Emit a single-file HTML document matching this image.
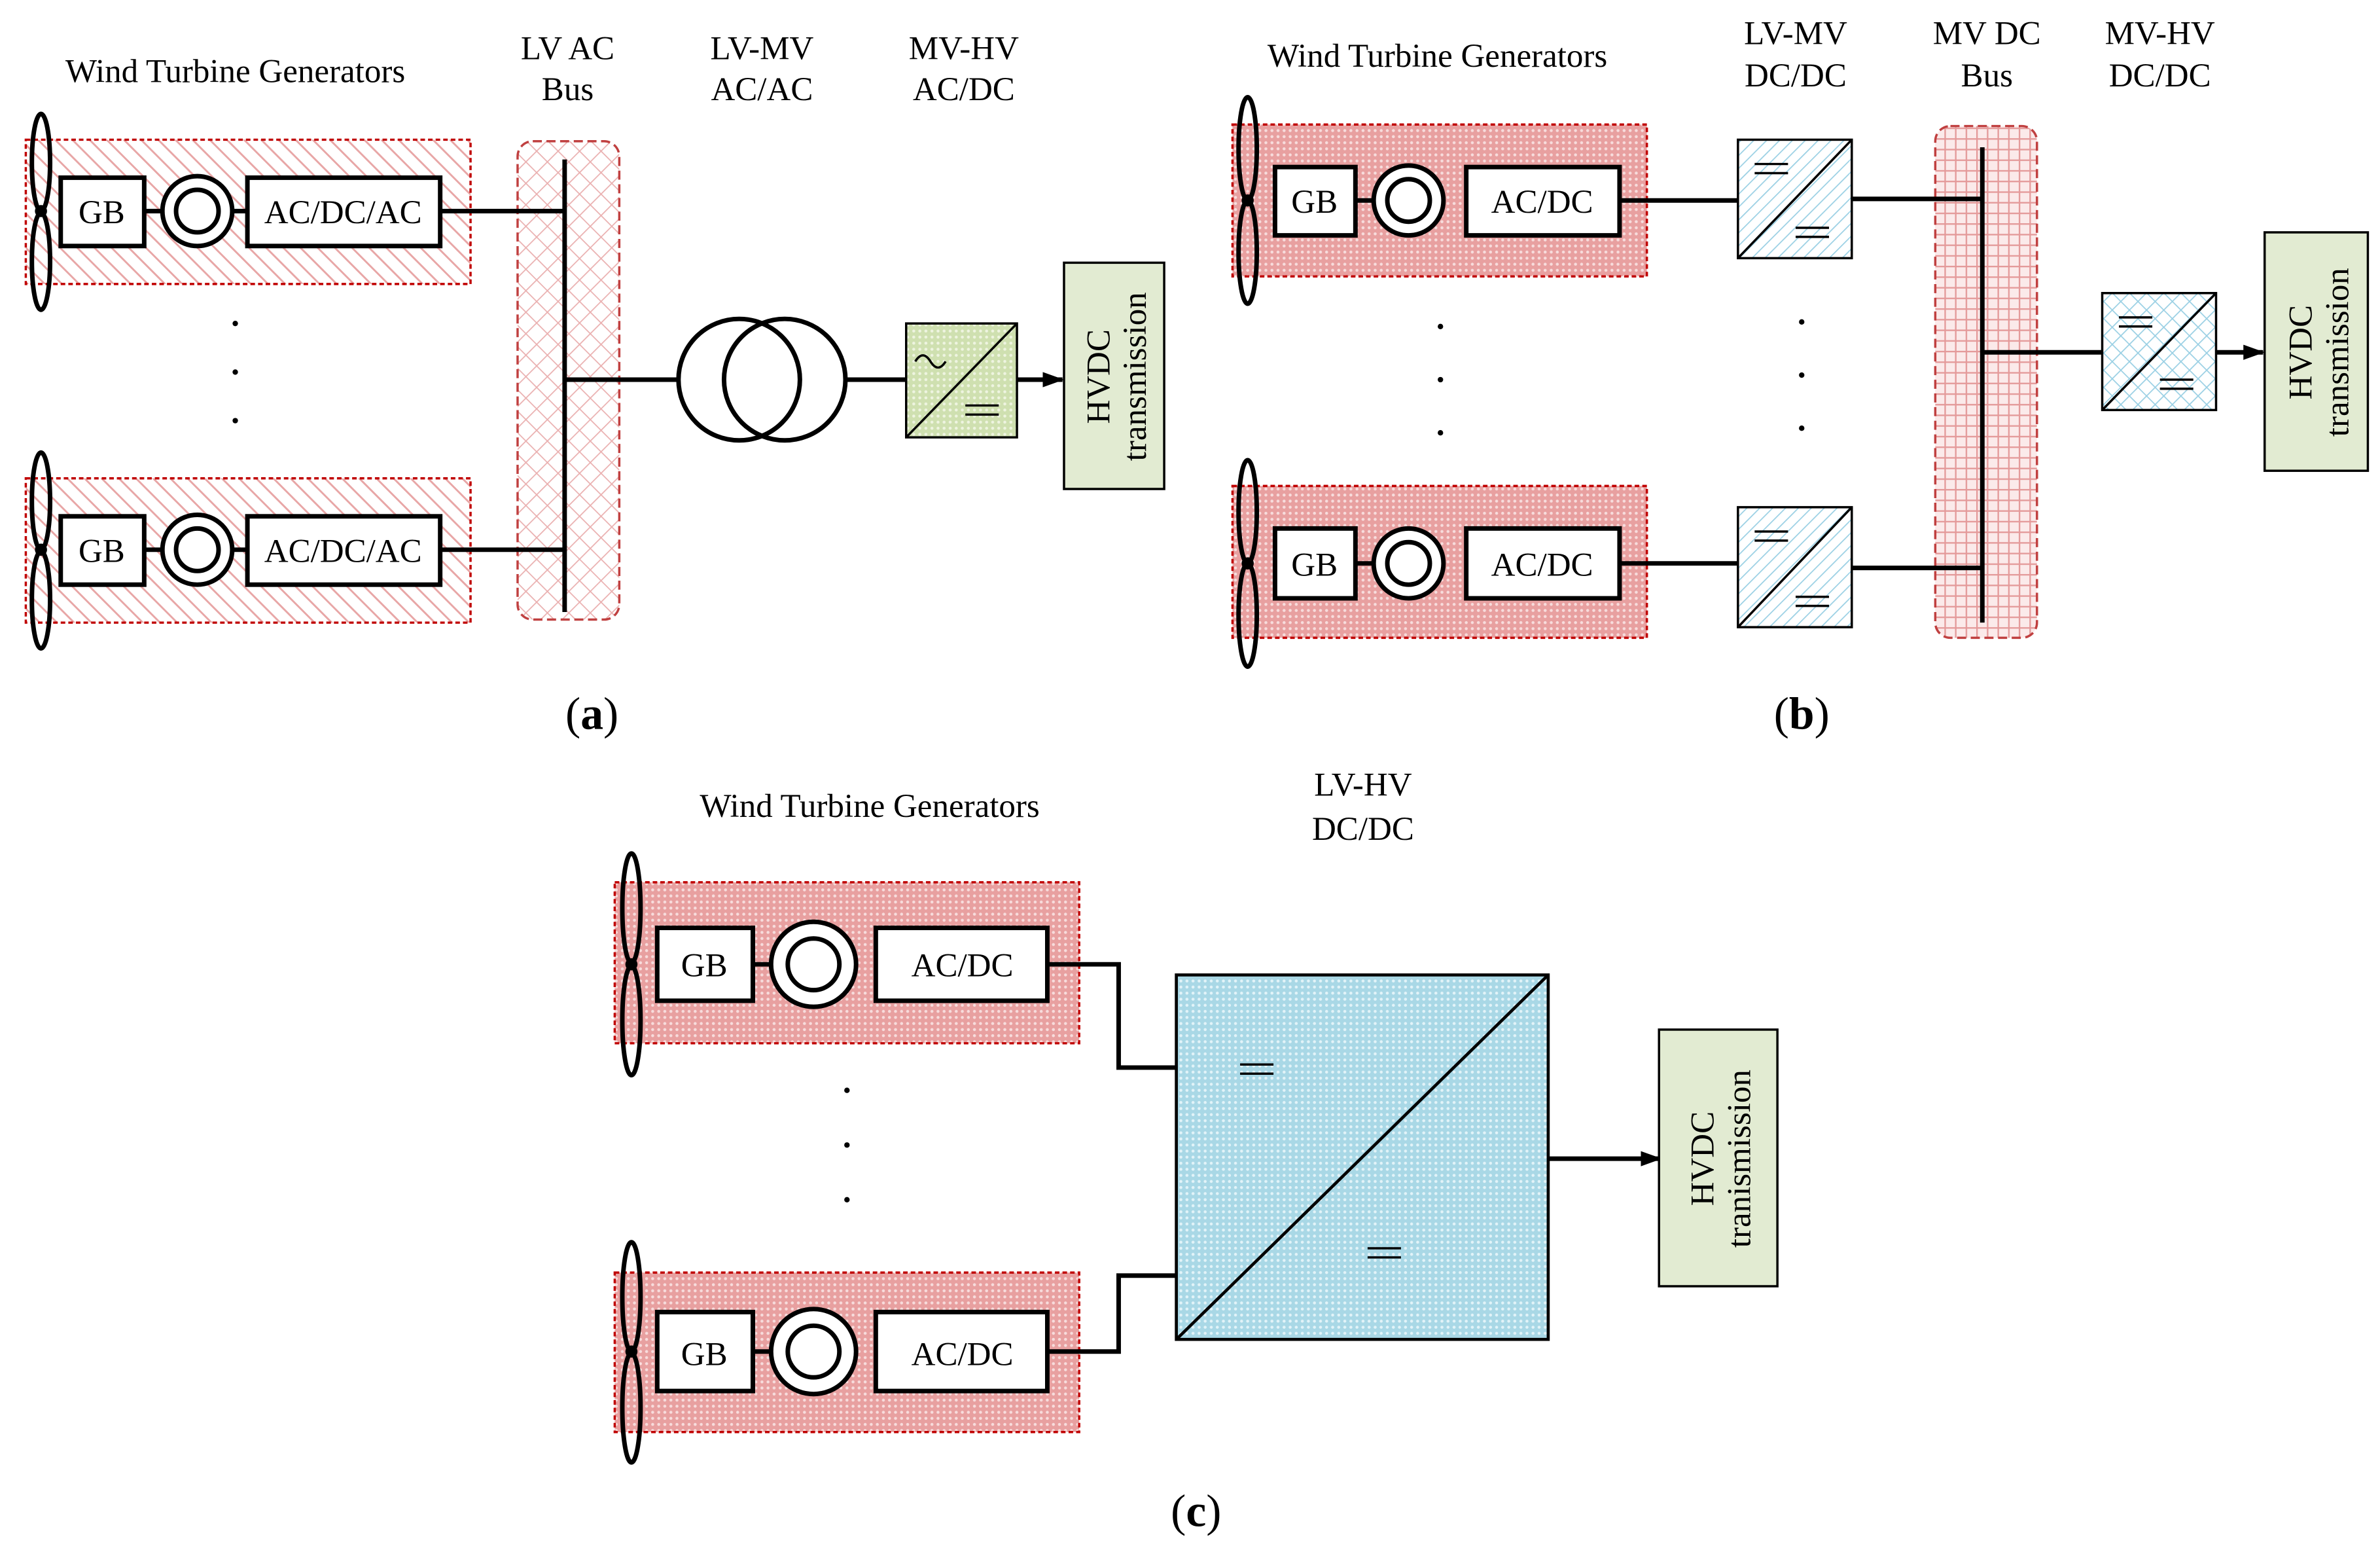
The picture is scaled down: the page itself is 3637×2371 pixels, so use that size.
<!DOCTYPE html>
<html><head><meta charset="utf-8"><style>html,body{margin:0;padding:0;background:#fff}svg{display:block}</style></head><body>
<svg width="3637" height="2371" viewBox="0 0 1568 1022" preserveAspectRatio="none" xmlns="http://www.w3.org/2000/svg" font-family="Liberation Serif, serif">
<defs>
<pattern id="hatch" width="8" height="8" patternUnits="userSpaceOnUse" patternTransform="rotate(-45)"><rect width="8" height="8" fill="#fff"/><line x1="0" y1="0" x2="0" y2="8" stroke="#e8a6a6" stroke-width="2.5"/></pattern>
<pattern id="cross" width="10" height="10" patternUnits="userSpaceOnUse" patternTransform="rotate(45)"><rect width="10" height="10" fill="#fff"/><path d="M0 0V10M0 0H10" stroke="#eab0b0" stroke-width="1.5"/></pattern>
<pattern id="grid" width="7" height="7" patternUnits="userSpaceOnUse"><rect width="7" height="7" fill="#fbeaea"/><path d="M0 0V7M0 0H7" stroke="#e49a9a" stroke-width="2"/></pattern>
<pattern id="dots" width="4" height="4" patternUnits="userSpaceOnUse"><rect width="4" height="4" fill="#e8a0a0"/><circle cx="2" cy="2" r="1" fill="#f7dcdc"/></pattern>
<pattern id="bluedots" width="4" height="4" patternUnits="userSpaceOnUse"><rect width="4" height="4" fill="#a9d8e6"/><circle cx="2" cy="2" r="1" fill="#e2f3f8"/></pattern>
<pattern id="bluehatch" width="6" height="6" patternUnits="userSpaceOnUse" patternTransform="rotate(45)"><rect width="6" height="6" fill="#fff"/><line x1="0" y1="0" x2="0" y2="6" stroke="#9ad0e4" stroke-width="1.5"/></pattern>
<pattern id="bluecross" width="8" height="8" patternUnits="userSpaceOnUse" patternTransform="rotate(45)"><rect width="8" height="8" fill="#fff"/><path d="M0 0V8M0 0H8" stroke="#9ad0e4" stroke-width="1.5"/></pattern>
<pattern id="greendots" width="4" height="4" patternUnits="userSpaceOnUse"><rect width="4" height="4" fill="#cfe0b0"/><circle cx="2" cy="2" r="1" fill="#eef4e0"/></pattern>
<marker id="ar" markerWidth="14" markerHeight="12" refX="13" refY="6" orient="auto" markerUnits="userSpaceOnUse"><path d="M0 1L14 6L0 11Z" fill="#000"/></marker>
</defs>
<g font-size="22" fill="#000">
<text x="155" y="54" text-anchor="middle">Wind Turbine Generators</text>
<text x="374" y="39" text-anchor="middle">LV AC</text><text x="374" y="66" text-anchor="middle">Bus</text>
<text x="502" y="39" text-anchor="middle">LV-MV</text><text x="502" y="66" text-anchor="middle">AC/AC</text>
<text x="635" y="39" text-anchor="middle">MV-HV</text><text x="635" y="66" text-anchor="middle">AC/DC</text>
<text x="390" y="480" text-anchor="middle" font-size="30">(<tspan font-weight="bold">a</tspan>)</text>
<text x="1187" y="480" text-anchor="middle" font-size="30">(<tspan font-weight="bold">b</tspan>)</text>
<text x="788" y="1005" text-anchor="middle" font-size="30">(<tspan font-weight="bold">c</tspan>)</text>
</g>
<g stroke="#000" stroke-width="3" fill="none">
<rect x="17" y="92" width="293" height="95" fill="url(#hatch)" stroke="#c00000" stroke-width="1.5" stroke-dasharray="3,2"/>
<rect x="17" y="315" width="293" height="95" fill="url(#hatch)" stroke="#c00000" stroke-width="1.5" stroke-dasharray="3,2"/>
<rect x="341" y="93" width="67" height="315" rx="10" fill="url(#cross)" stroke="#c04040" stroke-width="1.5" stroke-dasharray="6,3"/>
<line x1="372" y1="105" x2="372" y2="403"/>
<line x1="95" y1="139" x2="107" y2="139"/><line x1="153" y1="139" x2="163" y2="139"/>
<line x1="290" y1="139" x2="372" y2="139"/>
<line x1="95" y1="362" x2="107" y2="362"/><line x1="153" y1="362" x2="163" y2="362"/>
<line x1="290" y1="362" x2="372" y2="362"/>
<rect x="40" y="117" width="55" height="45" fill="#fff"/>
<rect x="163" y="117" width="127" height="45" fill="#fff"/>
<circle cx="130" cy="139" r="23" fill="#fff"/><circle cx="130" cy="139" r="14"/>
<rect x="40" y="340" width="55" height="45" fill="#fff"/>
<rect x="163" y="340" width="127" height="45" fill="#fff"/>
<circle cx="130" cy="362" r="23" fill="#fff"/><circle cx="130" cy="362" r="14"/>
<ellipse cx="27" cy="107" rx="6" ry="32"/><ellipse cx="27" cy="172" rx="6" ry="32"/>
<ellipse cx="27" cy="330" rx="6" ry="32"/><ellipse cx="27" cy="395" rx="6" ry="32"/>
<line x1="372" y1="250" x2="447" y2="250"/>
<circle cx="487" cy="250" r="40"/><circle cx="517" cy="250" r="40"/>
<line x1="557" y1="250" x2="597" y2="250"/>
<rect x="597" y="213" width="73" height="75" fill="url(#greendots)" stroke-width="1.5"/>
<line x1="597" y1="288" x2="670" y2="213" stroke-width="1.5"/>
<line x1="670" y1="250" x2="700" y2="250" marker-end="url(#ar)"/>
<rect x="701" y="173" width="66" height="149" fill="#e2ebd2" stroke-width="1.5"/>
<rect x="812" y="82" width="273" height="100" fill="url(#dots)" stroke="#c00000" stroke-width="1.5" stroke-dasharray="3,2"/>
<rect x="812" y="320" width="273" height="100" fill="url(#dots)" stroke="#c00000" stroke-width="1.5" stroke-dasharray="3,2"/>
<rect x="1275" y="83" width="67" height="337" rx="10" fill="url(#grid)" stroke="#c04040" stroke-width="1.5" stroke-dasharray="6,3"/>
<line x1="1306" y1="97" x2="1306" y2="410"/>
<line x1="893" y1="132" x2="905" y2="132"/><line x1="1067" y1="132" x2="1145" y2="132"/>
<line x1="893" y1="371" x2="905" y2="371"/><line x1="1067" y1="371" x2="1145" y2="371"/>
<line x1="1220" y1="131" x2="1306" y2="131"/><line x1="1220" y1="374" x2="1306" y2="374"/>
<line x1="1306" y1="232" x2="1385" y2="232"/>
<rect x="840" y="110" width="53" height="45" fill="#fff"/>
<rect x="966" y="110" width="101" height="45" fill="#fff"/>
<circle cx="928" cy="132" r="23" fill="#fff"/><circle cx="928" cy="132" r="14"/>
<rect x="840" y="348" width="53" height="46" fill="#fff"/>
<rect x="966" y="348" width="101" height="46" fill="#fff"/>
<circle cx="928" cy="371" r="23" fill="#fff"/><circle cx="928" cy="371" r="14"/>
<ellipse cx="822" cy="98" rx="6" ry="34"/><ellipse cx="822" cy="166" rx="6" ry="34"/>
<ellipse cx="822" cy="337" rx="6" ry="34"/><ellipse cx="822" cy="405" rx="6" ry="34"/>
<rect x="1145" y="92" width="75" height="78" fill="url(#bluehatch)" stroke-width="1.5"/><line x1="1145" y1="170" x2="1220" y2="92" stroke-width="1.5"/>
<rect x="1145" y="334" width="75" height="79" fill="url(#bluehatch)" stroke-width="1.5"/><line x1="1145" y1="413" x2="1220" y2="334" stroke-width="1.5"/>
<rect x="1385" y="193" width="75" height="77" fill="url(#bluecross)" stroke-width="1.5"/><line x1="1385" y1="270" x2="1460" y2="193" stroke-width="1.5"/>
<line x1="1460" y1="232" x2="1491" y2="232" marker-end="url(#ar)"/>
<rect x="1492" y="153" width="68" height="157" fill="#e2ebd2" stroke-width="1.5"/>
<rect x="405" y="581" width="306" height="106" fill="url(#dots)" stroke="#c00000" stroke-width="1.5" stroke-dasharray="3,2"/>
<rect x="405" y="838" width="306" height="105" fill="url(#dots)" stroke="#c00000" stroke-width="1.5" stroke-dasharray="3,2"/>
<line x1="496" y1="635" x2="508" y2="635"/><polyline points="690,635 737,635 737,703 775,703"/>
<line x1="496" y1="890" x2="508" y2="890"/><polyline points="690,890 737,890 737,840 775,840"/>
<rect x="433" y="611" width="63" height="48" fill="#fff"/>
<rect x="577" y="611" width="113" height="48" fill="#fff"/>
<circle cx="536" cy="635" r="28" fill="#fff"/><circle cx="536" cy="635" r="17"/>
<rect x="433" y="864" width="63" height="52" fill="#fff"/>
<rect x="577" y="864" width="113" height="52" fill="#fff"/>
<circle cx="536" cy="890" r="28" fill="#fff"/><circle cx="536" cy="890" r="17"/>
<ellipse cx="416" cy="598" rx="6" ry="36"/><ellipse cx="416" cy="672" rx="6" ry="36"/>
<ellipse cx="416" cy="854" rx="6" ry="36"/><ellipse cx="416" cy="927" rx="6" ry="36"/>
<rect x="775" y="642" width="245" height="240" fill="url(#bluedots)" stroke-width="2"/>
<line x1="775" y1="882" x2="1020" y2="642" stroke-width="2"/>
<line x1="1020" y1="763" x2="1094" y2="763" marker-end="url(#ar)"/>
<rect x="1093" y="678" width="78" height="169" fill="#e2ebd2" stroke-width="1.5"/>
<!-- equals signs -->
<g stroke-width="1.5">
<path d="M636 267h22M636 273h22"/>
<path d="M1156 108h22M1156 114h22M1183 150h22M1183 156h22"/>
<path d="M1156 350h22M1156 356h22M1183 393h22M1183 399h22"/>
<path d="M1396 209h22M1396 215h22M1423 250h22M1423 256h22"/>
<path d="M817 701h22M817 707h22M901 822h22M901 828h22"/>
</g>
<path d="M603 238q5-8 10 0t10 0" stroke-width="1.5"/>
</g>
<g fill="#000">
<circle cx="27" cy="139" r="4"/><circle cx="27" cy="362" r="4"/>
<circle cx="822" cy="132" r="4"/><circle cx="822" cy="371" r="4"/>
<circle cx="416" cy="635" r="4"/><circle cx="416" cy="890" r="4"/>
<circle cx="155" cy="213" r="1.8"/><circle cx="155" cy="245" r="1.8"/><circle cx="155" cy="277" r="1.8"/>
<circle cx="949" cy="215" r="1.8"/><circle cx="949" cy="250" r="1.8"/><circle cx="949" cy="285" r="1.8"/>
<circle cx="1187" cy="212" r="1.8"/><circle cx="1187" cy="247" r="1.8"/><circle cx="1187" cy="282" r="1.8"/>
<circle cx="558" cy="718" r="1.8"/><circle cx="558" cy="754" r="1.8"/><circle cx="558" cy="790" r="1.8"/>
</g>
<g font-size="22" fill="#000" text-anchor="middle">
<text x="67" y="147">GB</text><text x="226" y="147">AC/DC/AC</text>
<text x="67" y="370">GB</text><text x="226" y="370">AC/DC/AC</text>
<text transform="translate(734,248) rotate(-90)" dy="-3">HVDC</text>
<text transform="translate(734,248) rotate(-90)" dy="21">transmission</text>
<text x="947" y="44">Wind Turbine Generators</text>
<text x="1183" y="29">LV-MV</text><text x="1183" y="57">DC/DC</text>
<text x="1309" y="29">MV DC</text><text x="1309" y="57">Bus</text>
<text x="1423" y="29">MV-HV</text><text x="1423" y="57">DC/DC</text>
<text x="866" y="140">GB</text><text x="1016" y="140">AC/DC</text>
<text x="866" y="379">GB</text><text x="1016" y="379">AC/DC</text>
<text transform="translate(1526,232) rotate(-90)" dy="-3">HVDC</text>
<text transform="translate(1526,232) rotate(-90)" dy="21">transmission</text>
<text x="573" y="538">Wind Turbine Generators</text>
<text x="898" y="524">LV-HV</text><text x="898" y="553">DC/DC</text>
<text x="464" y="643">GB</text><text x="634" y="643">AC/DC</text>
<text x="464" y="899">GB</text><text x="634" y="899">AC/DC</text>
<text transform="translate(1132,763) rotate(-90)" dy="-3">HVDC</text>
<text transform="translate(1132,763) rotate(-90)" dy="21">tranismission</text>
</g>
</svg>
</body></html>
